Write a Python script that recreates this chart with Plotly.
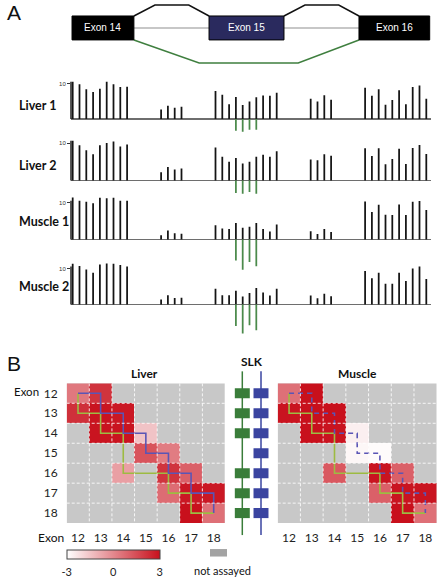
import plotly.graph_objects as go

# ------------------------- data -------------------------
probe_pos = [0, 1, 2, 3, 4, 5, 6, 7, 8,
             13, 14, 15, 16,
             21, 22, 23, 24, 25, 26, 27, 28, 29, 30,
             35, 36, 37, 38,
             43, 44, 45, 46, 47, 48, 49, 50, 51, 52]
track_names = ["Liver 1", "Liver 2", "Muscle 1", "Muscle 2"]
liver1 = [10.6, 9.9, 8.5, 7.7, 8.6, 10.6, 9.9, 9.1, 9.2,
          2.7, 3.8, 3.2, 3.5,
          8.0, 6.9, 4.2, 6.3, 4.0, 5.0, 6.2, 6.7, 6.6, 7.5,
          5.8, 5.0, 6.8, 5.5,
          8.9, 6.6, 8.5, 4.1, 5.4, 8.2, 4.2, 9.1, 9.5, 5.8]
liver2 = [10.6, 9.4, 8.1, 7.0, 9.4, 10.0, 10.4, 9.1, 9.6,
          2.2, 3.6, 2.9, 3.2,
          8.8, 6.3, 5.0, 6.0, 4.5, 5.0, 6.3, 6.9, 6.3, 7.8,
          5.6, 5.4, 7.0, 6.6,
          8.6, 6.5, 8.6, 4.3, 5.7, 8.5, 4.4, 8.7, 9.5, 7.1]
muscle1 = [11.5, 10.6, 10.3, 9.9, 11.4, 11.3, 11.4, 10.6, 10.6,
           1.2, 2.5, 1.7, 1.6,
           3.9, 3.0, 2.9, 4.5, 3.2, 3.5, 4.5, 2.9, 2.2, 4.1,
           2.3, 1.5, 2.9, 2.1,
           10.4, 7.5, 9.5, 6.8, 6.7, 9.6, 6.7, 10.3, 10.5, 8.1]
muscle2 = [11.3, 10.7, 9.7, 8.8, 11.1, 11.4, 11.3, 11.0, 10.6,
           1.4, 2.6, 1.8, 1.9,
           4.4, 2.6, 2.6, 3.8, 2.2, 3.2, 4.6, 3.3, 2.5, 4.4,
           2.5, 1.7, 3.0, 2.3,
           9.3, 7.3, 8.8, 5.8, 5.8, 8.8, 6.5, 10.0, 10.6, 7.1]
junction_pos = [24, 25, 26, 27]
liver1_junc = [-3.3, -3.6, -3.0, -3.0]
liver2_junc = [-3.4, -3.6, -3.1, -3.6]
muscle1_junc = [-5.7, -8.2, -6.1, -7.3]
muscle2_junc = [-6.0, -8.1, -5.8, -7.2]

exon_names = ["Exon 14", "Exon 15", "Exon 16"]
exon_start = [-0.1, 20.05, 42.1]
exon_end = [9.0, 31.07, 52.5]

heat_exons = [12, 13, 14, 15, 16, 17, 18]
N = None
liver_psi = [
    [0.4, 2.1, N, N, N, N, N],
    [2.2, 2.9, 2.8, N, N, N, N],
    [N, 2.9, 2.9, -1.5, N, N, N],
    [N, N, N, 1.3, 0.3, N, N],
    [N, N, -0.6, N, 2.1, 1.0, N],
    [N, N, N, N, 0.7, 2.8, 2.8],
    [N, N, N, N, N, 3.0, 0.6],
]
muscle_psi = [
    [0.6, 3.0, N, N, N, N, N],
    [2.9, 3.0, 3.0, N, N, N, N],
    [N, 3.0, 2.9, -2.6, N, N, N],
    [N, N, N, -2.8, -2.9, N, N],
    [N, N, 1.2, N, 2.9, 1.0, N],
    [N, N, N, N, 1.0, 2.9, 2.9],
    [N, N, N, N, N, 3.0, 0.6],
]
slk_iso_green = [12, 13, 14, 16, 17, 18]
slk_iso_blue = [12, 13, 14, 15, 16, 17, 18]
cbar_ticks = [-3, 0, 3]

# ------------------------- helpers -------------------------
W, H = 438, 578
def PX(x): return x / W
def PY(y): return 1 - y / H

FONT = "Lato, 'Open Sans', sans-serif"
ARIAL = "'Liberation Sans', Arial, sans-serif"
BLACK_BAR = "#141414"
GREEN_BAR = "#4b8a4b"
GREEN_BOX = "#3a7d3a"
BLUE_BOX = "#3a44a0"
HEAT_GREEN = "#9dbb42"
HEAT_BLUE = "#5a55b5"
GRAY_CELL = "#c8c8c8"

fig = go.Figure()
shapes = []
annotations = []

# x axis for panel A (probe units)
p_lo = (71 - 72.7) / 6.8
p_hi = (431 - 72.7) / 6.8
layout = dict(
    width=W, height=H, margin=dict(l=0, r=0, t=0, b=0),
    paper_bgcolor="white", plot_bgcolor="rgba(0,0,0,0)",
    showlegend=False, barmode="overlay",
    xaxis=dict(domain=[PX(71), PX(431)], range=[p_lo, p_hi], visible=False, anchor="y"),
    yaxis=dict(domain=[PY(70), PY(0)], range=[70, 0], visible=False, anchor="x"),
)

# ---- exon diagram ----
box_top, box_bot, mid_y, arc_top, skip_bot = 16, 40, 28, 5, 63
fig.add_trace(go.Scatter(x=[exon_end[0], exon_start[2]], y=[mid_y, mid_y], mode="lines",
                         line=dict(color="#b4b4b4", width=1.5), hoverinfo="skip",
                         xaxis="x", yaxis="y"))
for i in range(2):
    a, b = exon_end[i], exon_start[i + 1]
    g = b - a
    fig.add_trace(go.Scatter(x=[a, a + 0.28 * g, b - 0.27 * g, b],
                             y=[box_top, arc_top, arc_top, box_top], mode="lines",
                             line=dict(color="#111", width=1.5), hoverinfo="skip",
                             xaxis="x", yaxis="y"))
a, b = exon_end[0], exon_start[2]
g = b - a
fig.add_trace(go.Scatter(x=[a, a + 0.29 * g, b - 0.27 * g, b],
                         y=[box_bot, skip_bot, skip_bot, box_bot], mode="lines",
                         line=dict(color="#3f7f3f", width=1.5), hoverinfo="skip",
                         xaxis="x", yaxis="y"))
exon_fill = ["#000000", "#2a2a5e", "#000000"]
for i, nm in enumerate(exon_names):
    shapes.append(dict(type="rect", xref="x", yref="y", x0=exon_start[i], x1=exon_end[i],
                       y0=box_top, y1=box_bot, fillcolor=exon_fill[i],
                       line=dict(color="#000", width=1), layer="above"))
    annotations.append(dict(xref="x", yref="y", x=(exon_start[i] + exon_end[i]) / 2,
                            y=mid_y, text=nm, showarrow=False,
                            font=dict(family=ARIAL, size=10, color="white")))

# ---- read-coverage tracks ----
track_vals = [liver1, liver2, muscle1, muscle2]
track_junc = [liver1_junc, liver2_junc, muscle1_junc, muscle2_junc]
track_base = [119.3, 180.7, 240.0, 305.0]
track_ten = [84.0, 143.3, 203.3, 269.0]
track_ymin = [-4.5, -4.5, -9.5, -9.5]
track_label_y = [105.5, 165.5, 222, 287]
for k in range(4):
    ya = "y%d" % (k + 2)
    b, t = track_base[k], track_ten[k]
    s = (b - t) / 10.0
    ymax = 12.0
    layout["yaxis%d" % (k + 2)] = dict(
        domain=[PY(b - track_ymin[k] * s), PY(b - ymax * s)],
        range=[track_ymin[k], ymax], anchor="x",
        showgrid=False, showline=False, zeroline=True, zerolinecolor="#6e6e6e",
        zerolinewidth=1.2, tickvals=[10], ticktext=["10"], ticks="outside",
        ticklen=3, tickwidth=1, tickcolor="#333",
        tickfont=dict(family=ARIAL, size=6, color="#333"))
    fig.add_trace(go.Bar(x=probe_pos, y=track_vals[k], width=0.26,
                         marker=dict(color=BLACK_BAR, line=dict(width=0)),
                         hoverinfo="skip", xaxis="x", yaxis=ya))
    fig.add_trace(go.Bar(x=junction_pos, y=track_junc[k], width=0.26,
                         marker=dict(color=GREEN_BAR, line=dict(width=0)),
                         hoverinfo="skip", xaxis="x", yaxis=ya))
    shapes.append(dict(type="line", xref="x domain", yref=ya, x0=0, x1=0, y0=0, y1=10.6,
                       line=dict(color="#222", width=1.5)))
    annotations.append(dict(xref="paper", yref="paper", x=PX(17), y=PY(track_label_y[k]),
                            xanchor="left", yanchor="middle", text="<b>%s</b>" % track_names[k],
                            showarrow=False, font=dict(family=FONT, size=12.5, color="#111")))

# ---- heatmaps ----
heat_top, heat_bot = 384, 524
heat_panels = [("x2", "y6", 66.7, 225.0, liver_psi, False),
               ("x3", "y7", 277.7, 436.7, muscle_psi, True)]
for xa, ya, x0, x1, z, dashed in heat_panels:
    xn, yn = xa[1:], ya[1:]
    layout["xaxis" + xn] = dict(domain=[PX(x0), PX(x1)], range=[11.5, 18.5], anchor=ya,
                                tickvals=heat_exons, ticks="", showgrid=False, zeroline=False,
                                showline=False, ticklabelstandoff=6,
                                tickfont=dict(family=FONT, size=12, color="#222"))
    layout["yaxis" + yn] = dict(domain=[PY(heat_bot), PY(heat_top)], range=[18.5, 11.5],
                                anchor=xa, tickvals=heat_exons, ticks="", showgrid=False,
                                zeroline=False, showline=False, showticklabels=not dashed,
                                ticklabelstandoff=8,
                                tickfont=dict(family=FONT, size=12, color="#222"))
    fig.add_trace(go.Heatmap(z=[[1] * 7 for _ in range(7)], x=heat_exons, y=heat_exons,
                             colorscale=[[0, GRAY_CELL], [1, GRAY_CELL]], showscale=False,
                             hoverinfo="skip", xaxis=xa, yaxis=ya))
    fig.add_trace(go.Heatmap(z=z, x=heat_exons, y=heat_exons, coloraxis="coloraxis",
                             hoverinfo="skip", xaxis=xa, yaxis=ya))
    for e in heat_exons[:-1]:
        shapes.append(dict(type="line", xref=xa, yref=ya, x0=e + 0.5, x1=e + 0.5, y0=11.5, y1=18.5,
                           line=dict(color="rgba(255,255,255,0.85)", width=1, dash="3px,2px")))
        shapes.append(dict(type="line", xref=xa, yref=ya, y0=e + 0.5, y1=e + 0.5, x0=11.5, x1=18.5,
                           line=dict(color="rgba(255,255,255,0.85)", width=1, dash="3px,2px")))
    # green isoform path: down then right
    gx, gy = [slk_iso_green[0]], [slk_iso_green[0]]
    for prev, e in zip(slk_iso_green[:-1], slk_iso_green[1:]):
        gx += [prev, e]; gy += [e, e]
    fig.add_trace(go.Scatter(x=gx, y=gy, mode="lines", line=dict(color=HEAT_GREEN, width=1.6),
                             hoverinfo="skip", xaxis=xa, yaxis=ya))
    # blue isoform path: right then down
    bx, by = [slk_iso_blue[0]], [slk_iso_blue[0]]
    for prev, e in zip(slk_iso_blue[:-1], slk_iso_blue[1:]):
        bx += [e, e]; by += [prev, e]
    fig.add_trace(go.Scatter(x=bx, y=by, mode="lines",
                             line=dict(color=HEAT_BLUE, width=1.6,
                                       dash="5px,4px" if dashed else "solid"),
                             hoverinfo="skip", xaxis=xa, yaxis=ya))

layout["coloraxis"] = dict(
    cmin=-3, cmax=3, colorscale=[[0, "#ffffff"], [1, "#c8101c"]],
    colorbar=dict(orientation="h", x=PX(66.7), xanchor="left", y=PY(550), yanchor="top",
                  len=(160 - 66.7) / W, lenmode="fraction", thickness=9, thicknessmode="pixels",
                  xpad=0, ypad=0, outlinewidth=1, outlinecolor="#444",
                  tickvals=cbar_ticks, ticktext=[str(v) for v in cbar_ticks],
                  ticks="outside", ticklen=4, tickcolor="rgba(0,0,0,0)",
                  tickfont=dict(family=FONT, size=11, color="#222")))

# ---- SLK isoform diagram ----
layout["xaxis4"] = dict(domain=[PX(228), PX(276)], range=[0, 1], visible=False, anchor="y8")
layout["yaxis8"] = dict(domain=[PY(536), PY(372)], range=[19.1, 10.9], visible=False, anchor="x4")
for cx, exons, col in [(0.298, slk_iso_green, GREEN_BOX), (0.6875, slk_iso_blue, BLUE_BOX)]:
    shapes.append(dict(type="line", xref="x4", yref="y8 domain", x0=cx, x1=cx, y0=0, y1=1,
                       line=dict(color=col, width=1.5), layer="below"))
    for e in exons:
        shapes.append(dict(type="rect", xref="x4", yref="y8", x0=cx - 0.156, x1=cx + 0.156,
                           y0=e - 0.25, y1=e + 0.25, fillcolor=col, line=dict(width=0)))

# ---- not assayed legend ----
shapes.append(dict(type="rect", xref="paper", yref="paper", x0=PX(210), x1=PX(227),
                   y0=PY(557.5), y1=PY(550), fillcolor="#a3a3a3", line=dict(width=0)))

# ---- text ----
def txt(x, y, s, size=12, bold=False, fam=FONT, xanchor="center"):
    annotations.append(dict(xref="paper", yref="paper", x=PX(x), y=PY(y), xanchor=xanchor,
                            yanchor="middle", showarrow=False,
                            text=("<b>%s</b>" % s) if bold else s,
                            font=dict(family=fam, size=size, color="#111")))

txt(14, 13, "A", size=21, fam=ARIAL)
txt(14, 364, "B", size=21, fam=ARIAL)
txt(252, 362, "SLK", size=12, bold=True)
txt(144, 374, "Liver", size=12, bold=True)
txt(357, 374, "Muscle", size=12, bold=True)
txt(26.5, 392, "Exon", size=11.5)
txt(51, 538.5, "Exon", size=12)
txt(222.5, 571, "not assayed", size=11)

layout["shapes"] = shapes
layout["annotations"] = annotations
fig.update_layout(**layout)
fig.write_html("out.html", config={"displayModeBar": False, "staticPlot": True},
               post_script="document.body.style.margin='0';document.body.style.padding='0';")
